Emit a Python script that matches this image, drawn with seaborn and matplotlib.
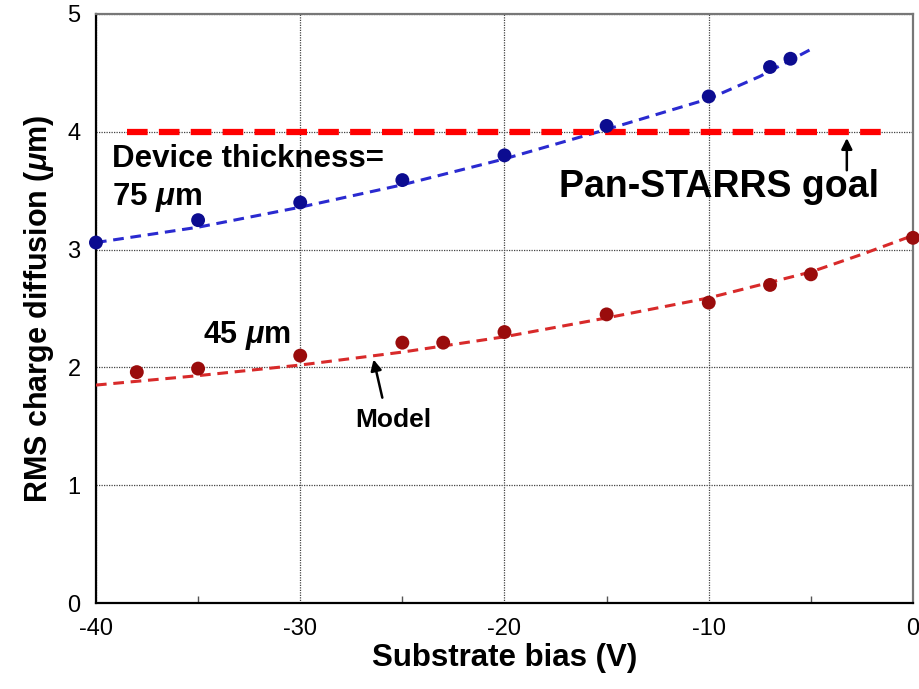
import numpy as np
import pandas as pd
import matplotlib
matplotlib.use("Agg")
import matplotlib.pyplot as plt
from matplotlib.ticker import MultipleLocator
import seaborn as sns

# ==========================
# data
# ==========================
bias_75 = [-40, -35, -30, -25, -20, -15, -10, -7, -6]
rms_75 = [3.06, 3.25, 3.40, 3.59, 3.80, 4.05, 4.30, 4.55, 4.62]

bias_45 = [-38, -35, -30, -25, -23, -20, -15, -10, -7, -5, 0]
rms_45 = [1.96, 1.99, 2.10, 2.21, 2.21, 2.30, 2.45, 2.55, 2.70, 2.79, 3.10]

model_bias_75 = [-40, -35, -30, -25, -20, -15, -10, -7.5, -5]
model_rms_75 = [3.06, 3.19, 3.36, 3.55, 3.77, 4.02, 4.28, 4.47, 4.70]

model_bias_45 = [-40, -35, -30, -25, -20, -15, -10, -5, -2.5, 0]
model_rms_45 = [1.85, 1.93, 2.02, 2.13, 2.26, 2.42, 2.59, 2.81, 2.96, 3.12]

goal_bias = [-38.5, -1.2]
goal_rms = [4.0, 4.0]

pts75 = pd.DataFrame({"bias": bias_75, "rms": rms_75})
pts45 = pd.DataFrame({"bias": bias_45, "rms": rms_45})
mod75 = pd.DataFrame({"bias": model_bias_75, "rms": model_rms_75})
mod45 = pd.DataFrame({"bias": model_bias_45, "rms": model_rms_45})
goal = pd.DataFrame({"bias": goal_bias, "rms": goal_rms})

# ==========================
# style
# ==========================
sns.set_style("white")
plt.rcParams["font.family"] = ["Liberation Sans", "DejaVu Sans"]
plt.rcParams["font.weight"] = "bold"
plt.rcParams["text.color"] = "black"
plt.rcParams["axes.labelcolor"] = "black"
plt.rcParams["xtick.color"] = "black"
plt.rcParams["ytick.color"] = "black"
plt.rcParams["axes.unicode_minus"] = False
plt.rcParams["mathtext.fontset"] = "custom"
plt.rcParams["mathtext.it"] = "Liberation Sans:italic:bold"
plt.rcParams["mathtext.rm"] = "Liberation Sans:bold"

fig = plt.figure(figsize=(9.2, 6.89), dpi=100)
ax = fig.add_axes([0.1043, 0.1248, 0.8881, 0.8549])

# model curves
sns.lineplot(data=mod75, x="bias", y="rms", ax=ax, color="#2a2ad0",
             lw=2.2, zorder=3).lines[-1].set_dashes([3.5, 2.2])
sns.lineplot(data=mod45, x="bias", y="rms", ax=ax, color="#d82a2a",
             lw=2.2, zorder=3).lines[-1].set_dashes([3.5, 2.2])

# goal line
sns.lineplot(data=goal, x="bias", y="rms", ax=ax, color="#ff0000",
             lw=4.5, zorder=3).lines[-1].set_dashes([3.3, 1.8])

# measurements
sns.scatterplot(data=pts75, x="bias", y="rms", ax=ax, color="#0c0c90",
                s=100, edgecolor="none", zorder=4, clip_on=False)
sns.scatterplot(data=pts45, x="bias", y="rms", ax=ax, color="#9a0c0c",
                s=100, edgecolor="none", zorder=4, clip_on=False)

# axes
ax.set_xlim(-40, 0)
ax.set_ylim(0, 5)
ax.xaxis.set_major_locator(MultipleLocator(10))
ax.xaxis.set_minor_locator(MultipleLocator(5))
ax.yaxis.set_major_locator(MultipleLocator(1))
ax.tick_params(axis="both", which="major", labelsize=17, length=0, pad=11)
ax.tick_params(axis="x", which="minor", direction="in", length=5, width=1,
               color="#555555", bottom=True)
for lab in ax.get_xticklabels() + ax.get_yticklabels():
    lab.set_fontweight("normal")
ax.grid(True, which="major", color="#444444", linestyle=(0, (1, 1)), lw=0.9)

for side in ["left", "bottom"]:
    ax.spines[side].set_color("black")
    ax.spines[side].set_linewidth(1.6)
for side in ["top", "right"]:
    ax.spines[side].set_color("#777777")
    ax.spines[side].set_linewidth(1.6)

ax.set_xlabel("Substrate bias (V)", fontsize=22.5, fontweight="bold", labelpad=2)
ax.set_ylabel(r"RMS charge diffusion ($\mu$m)", fontsize=22,
              fontweight="bold", labelpad=8)

# annotations
ax.text(-39.2, 3.70, "Device thickness=", fontsize=22.5, fontweight="bold")
ax.text(-39.2, 3.38, r"75 $\mu$m", fontsize=22.5, fontweight="bold")
ax.text(-34.76, 2.21, r"45 $\mu$m", fontsize=22, fontweight="bold")
ax.text(-27.3, 1.49, "Model", fontsize=19, fontweight="bold")
ax.annotate("", xy=(-26.44, 2.09), xytext=(-25.95, 1.72),
            arrowprops=dict(arrowstyle="-|>", color="black", lw=1.8,
                            mutation_scale=16))
ax.text(-1.67, 3.45, "Pan-STARRS goal", fontsize=27, fontweight="bold",
        ha="right", va="baseline")
ax.annotate("", xy=(-3.24, 3.97), xytext=(-3.24, 3.65),
            arrowprops=dict(arrowstyle="-|>", color="black", lw=1.8,
                            mutation_scale=16))

fig.savefig("out.png", dpi=100)
